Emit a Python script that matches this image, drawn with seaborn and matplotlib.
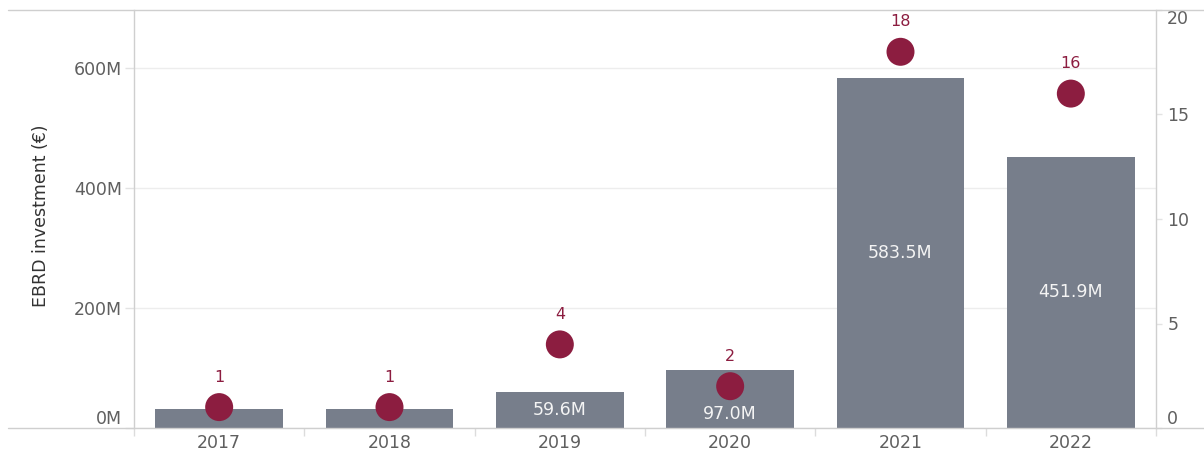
import numpy as np
import pandas as pd
import matplotlib
matplotlib.use("Agg")
import matplotlib.pyplot as plt
from matplotlib.lines import Line2D
from matplotlib.ticker import FixedLocator
import seaborn as sns

# EBRD investment (€ millions) and number of projects per year
years = ["2017", "2018", "2019", "2020", "2021", "2022"]
investment_m = [31.0, 31.0, 59.6, 97.0, 583.5, 451.9]
project_counts = [1, 1, 4, 2, 18, 16]

left_ticks_m = [0, 200, 400, 600]
right_ticks = [0, 5, 10, 15, 20]

BAR_COLOR = "#777e8b"
DOT_COLOR = "#8c1d40"
TICK_COLOR = "#5f5f5f"
LINE_COLOR = "#cfcfcf"
GRID_COLOR = "#ededed"

df = pd.DataFrame({"year": years, "investment": investment_m, "projects": project_counts})

sns.set_theme(style="white")
plt.rcParams["font.family"] = ["DejaVu Sans"]

W, H = 1204, 453
fig = plt.figure(figsize=(W / 100, H / 100), dpi=100)
x0, x1, y_top, y_base = 134, 1156, 10, 428
ax = fig.add_axes([x0 / W, 1 - y_base / H, (x1 - x0) / W, (y_base - y_top) / H])

LEFT_MAX = 697.0
RIGHT_MAX = 20.0

sns.barplot(data=df, x="year", y="investment", order=years, color=BAR_COLOR,
            saturation=1, width=0.75, errorbar=None, linewidth=0, ax=ax, zorder=2)
ax.set_xlim(-0.5, len(years) - 0.5)
ax.set_ylim(0, LEFT_MAX)
ax.set_axisbelow(True)

# left axis
ax.set_yticks(left_ticks_m)
ax.set_yticklabels([f"{v:.0f}M" for v in left_ticks_m])
ax.yaxis.grid(True, color=GRID_COLOR, lw=1)
ax.xaxis.grid(False)
ax.tick_params(axis="y", which="major", left=True, length=6.5, width=1,
               color="#e3e3e3", pad=2.2, labelsize=12.5, labelcolor=TICK_COLOR)
ax.yaxis.get_major_ticks()[0].label1.set_va("bottom")
ax.set_ylabel("EBRD investment (€)", fontsize=12.5, color="#333333")
ax.yaxis.set_label_coords(-0.082, 0.508)
ax.set_xlabel("")

# x axis: separators between categories
ax.xaxis.set_minor_locator(FixedLocator(np.arange(-0.5, len(years), 1.0)))
ax.tick_params(axis="x", which="minor", bottom=True, length=6, width=1, color="#dcdcdc")
ax.tick_params(axis="x", which="major", bottom=False, length=0, pad=4.5,
               labelsize=12.5, labelcolor=TICK_COLOR)

for side in ["top", "right", "bottom"]:
    ax.spines[side].set_visible(False)
ax.spines["left"].set_color(LINE_COLOR)
ax.spines["left"].set_linewidth(1)

# right axis: project counts
ax2 = ax.twinx()
ax2.set_ylim(0, RIGHT_MAX)
sns.scatterplot(x=np.arange(len(years)), y=project_counts, ax=ax2, s=406,
                color=DOT_COLOR, edgecolor="none", linewidth=0, legend=False, zorder=4)
ax2.set_xlim(-0.5, len(years) - 0.5)
ax2.set_yticks(right_ticks)
ax2.set_yticklabels([str(v) for v in right_ticks])
ax2.tick_params(axis="y", right=True, length=4.5, width=1, color="#e3e3e3",
                pad=3.6, labelsize=12.5, labelcolor=TICK_COLOR)
rt = ax2.yaxis.get_major_ticks()
rt[0].label2.set_va("bottom")
rt[-1].label2.set_va("top")
ax2.grid(False)
for side in ["top", "left", "bottom"]:
    ax2.spines[side].set_visible(False)
ax2.spines["right"].set_color(LINE_COLOR)
ax2.spines["right"].set_linewidth(1)

# project count labels above the dots
for i, c in enumerate(project_counts):
    ax2.annotate(str(c), (i, c), xytext=(0, 21.6), textcoords="offset points",
                 ha="center", va="center", fontsize=11.5, color=DOT_COLOR, zorder=5)

# investment labels inside the bars
px_per_m = (y_base - y_top) / LEFT_MAX
dot_r_m = 14 / px_per_m
for i, (v, c) in enumerate(zip(investment_m, project_counts)):
    if v < 45:
        continue
    dot_m = c * LEFT_MAX / RIGHT_MAX
    y = v / 2
    if dot_m < v:
        y = (dot_m - dot_r_m) / 2
    ax.text(i, y, f"{v:.1f}M", ha="center", va="center", fontsize=12.5,
            color="#f4f4f4", zorder=3)

# frame lines running across the full width
for yy in (y_top, y_base):
    fig.add_artist(Line2D([8 / W, 1], [1 - yy / H] * 2, color=LINE_COLOR, lw=1))

fig.savefig("out.png", dpi=100)
